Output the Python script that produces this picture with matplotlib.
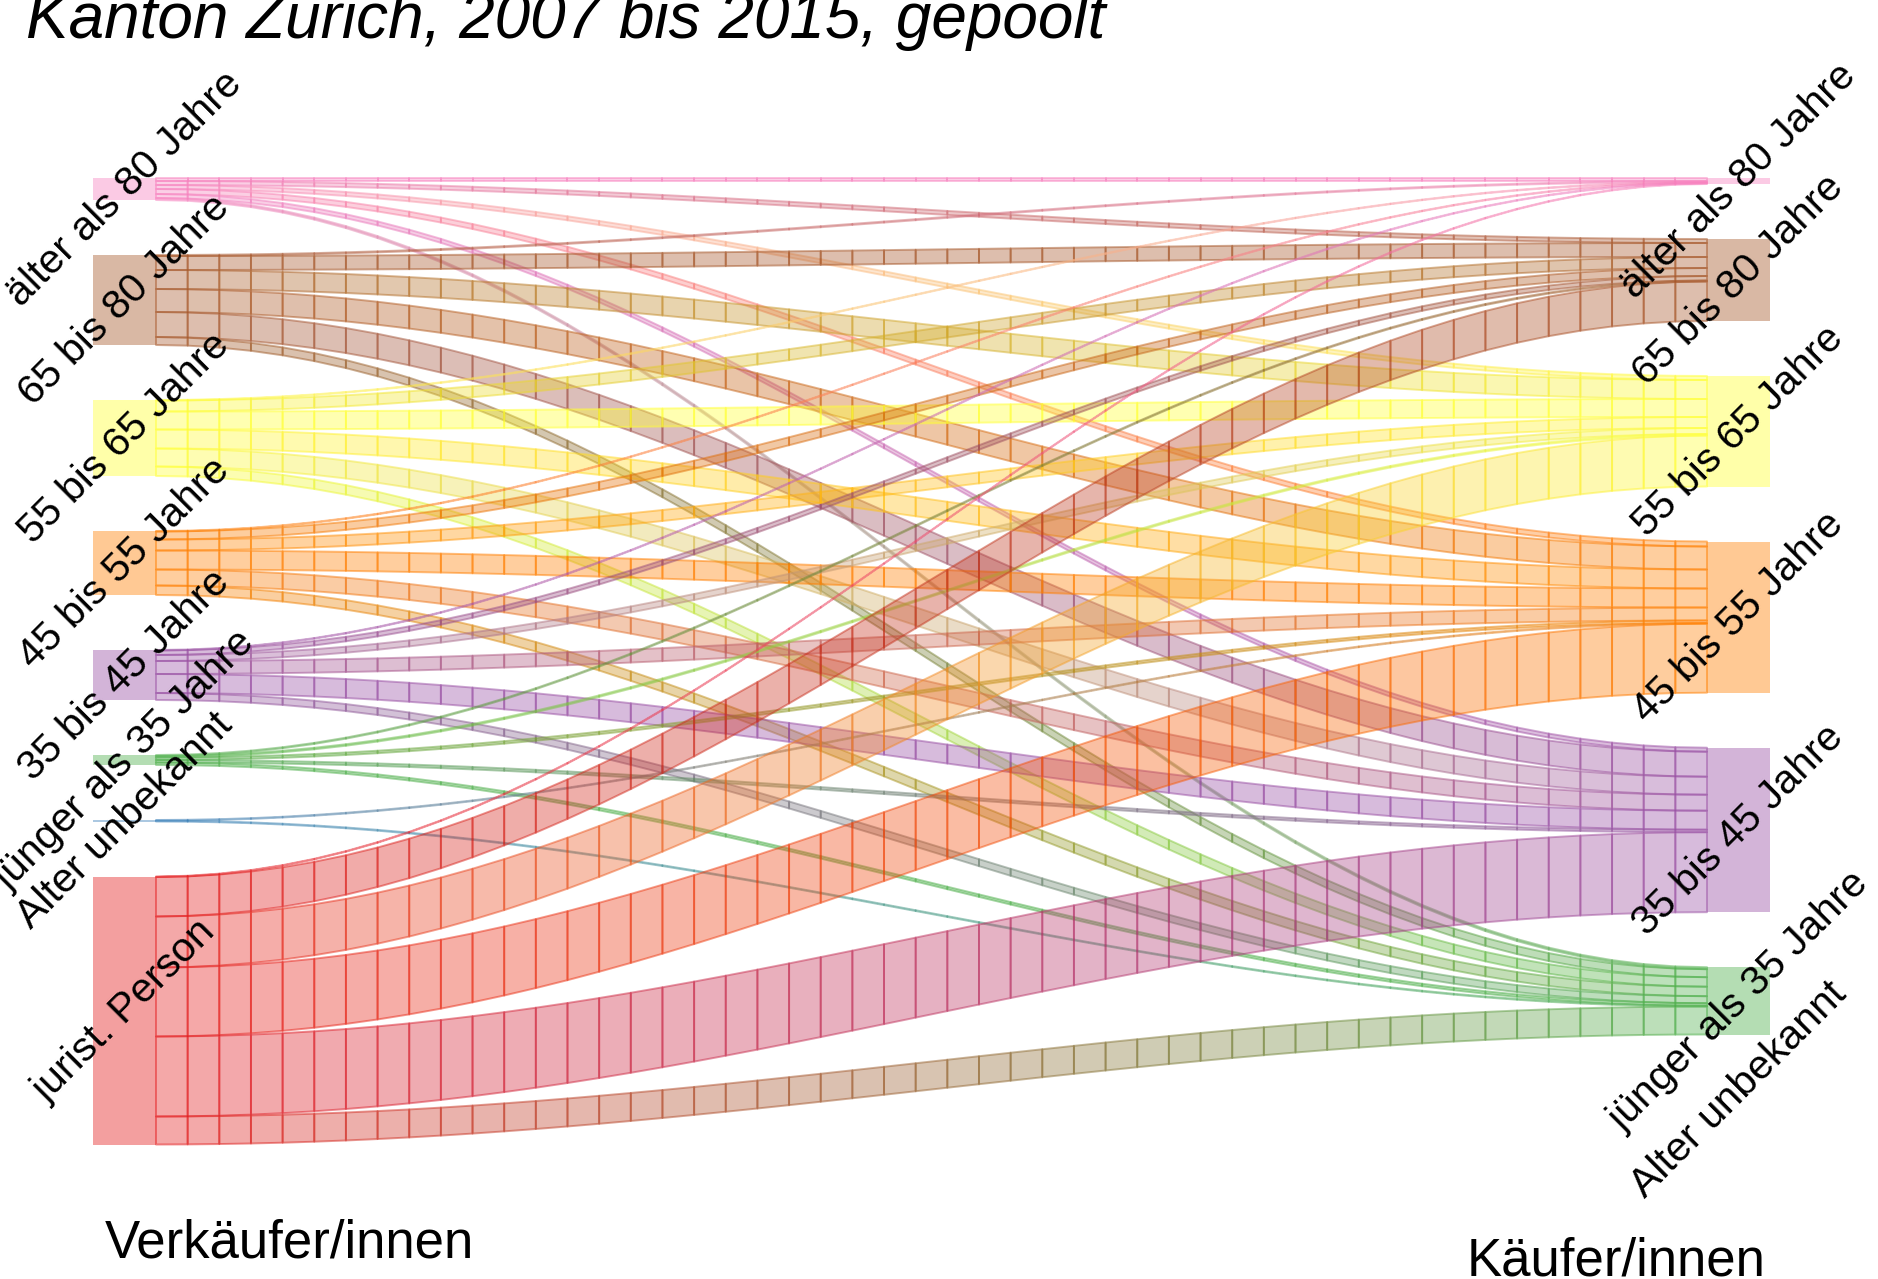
import numpy as np
import matplotlib.pyplot as plt
from matplotlib.collections import PolyCollection
from matplotlib.colors import to_rgb
from matplotlib.patches import Rectangle

plt.rcParams['font.family'] = ['Liberation Sans', 'DejaVu Sans']

title = "Kanton Zürich, 2007 bis 2015, gepoolt"
left_labels = ["älter als 80 Jahre", "65 bis 80 Jahre", "55 bis 65 Jahre", "45 bis 55 Jahre",
               "35 bis 45 Jahre", "jünger als 35 Jahre", "Alter unbekannt", "jurist. Person"]
right_labels = ["älter als 80 Jahre", "65 bis 80 Jahre", "55 bis 65 Jahre", "45 bis 55 Jahre",
                "35 bis 45 Jahre", "jünger als 35 Jahre", "Alter unbekannt"]
node_colors = ["#F781BF", "#A65628", "#FFFF33", "#FF7F00", "#984EA3", "#4DAF4A", "#377EB8", "#E41A1C"]

# flows Verkäufer -> Käufer, one list per seller group, columns in order of right_labels
from_80plus = [3, 4, 4, 5, 4, 2, 0]
from_65_80 = [1, 14, 19, 23, 25, 8, 0]
from_55_65 = [0.5, 11, 18, 19, 18, 9.5, 0]
from_45_55 = [0.5, 8, 11, 19, 16, 9.5, 0]
from_35_45 = [0.5, 4.5, 6, 13, 19, 7, 0]
from_u35 = [0, 1, 1.5, 2.5, 2.5, 2.5, 0]
from_unknown = [0, 0, 0, 0.7, 0, 0.8, 0]
from_jurist = [0.5, 39.5, 51, 69, 80, 28, 0]

flows = np.array([from_80plus, from_65_80, from_55_65, from_45_55,
                  from_35_45, from_u35, from_unknown, from_jurist], dtype=float)

# layout (pixels)
W, H = 1878, 1279
X_LEFT, NODE_W, X_RIGHT = 93, 63, 1707
TOP, GAP, SCALE = 178, 55, 1.0
NSTEPS = 50


def node_positions(sizes):
    tops = []
    y = TOP
    for s in sizes:
        tops.append(y)
        y += s * SCALE + GAP
    return np.array(tops)


left_sizes = flows.sum(axis=1)
right_sizes = flows.sum(axis=0)
left_tops = node_positions(left_sizes)
right_tops = node_positions(right_sizes)

fig = plt.figure(figsize=(W / 100, H / 100), dpi=100)
ax = fig.add_axes([0, 0, 1, 1])
ax.set_xlim(0, W)
ax.set_ylim(H, 0)
ax.axis("off")

x0 = X_LEFT + NODE_W
x1 = X_RIGHT
xs = np.linspace(x0, x1, NSTEPS)
shape = (np.sin(np.linspace(-np.pi / 2, np.pi / 2, NSTEPS)) + 1) / 2

src_off = left_tops.copy().astype(float)
dst_off = right_tops.copy().astype(float)
polys, fcols, ecols = [], [], []
# offsets: at source sorted by target, at target sorted by source
src_start = np.zeros_like(flows)
dst_start = np.zeros_like(flows)
for i in range(flows.shape[0]):
    for j in range(flows.shape[1]):
        src_start[i, j] = src_off[i]
        src_off[i] += flows[i, j] * SCALE
for j in range(flows.shape[1]):
    for i in range(flows.shape[0]):
        dst_start[i, j] = dst_off[j]
        dst_off[j] += flows[i, j] * SCALE

for i in range(flows.shape[0]):
    c0 = np.array(to_rgb(node_colors[i]))
    for j in range(flows.shape[1]):
        w = flows[i, j] * SCALE
        if w <= 0:
            continue
        c1 = np.array(to_rgb(node_colors[j]))
        ytop = src_start[i, j] + (dst_start[i, j] - src_start[i, j]) * shape
        for k in range(NSTEPS - 1):
            f = k / (NSTEPS - 2)
            c = (1 - f) * c0 + f * c1
            polys.append([(xs[k], ytop[k]), (xs[k + 1], ytop[k + 1]),
                          (xs[k + 1], ytop[k + 1] + w), (xs[k], ytop[k] + w)])
            fcols.append((*c, 0.38))
            ecols.append((*c, 0.5))

ax.add_collection(PolyCollection(polys, facecolors=fcols, edgecolors=ecols, linewidths=1.4))

for i, lab in enumerate(left_labels):
    h = left_sizes[i] * SCALE
    ax.add_patch(Rectangle((X_LEFT, left_tops[i]), NODE_W, h, color=node_colors[i], alpha=0.42, lw=0))
    ax.text(X_LEFT + NODE_W / 2, left_tops[i] + h / 2, lab, rotation=45, rotation_mode="anchor",
            ha="center", va="center", fontsize=29.5)
for j, lab in enumerate(right_labels):
    h = right_sizes[j] * SCALE
    if h > 0:
        ax.add_patch(Rectangle((X_RIGHT, right_tops[j]), NODE_W, h, color=node_colors[j], alpha=0.42, lw=0))
    ax.text(X_RIGHT + NODE_W / 2, right_tops[j] + h / 2, lab, rotation=45, rotation_mode="anchor",
            ha="center", va="center", fontsize=29.5)

ax.text(26, 38, title, fontsize=46, style="italic", ha="left", va="baseline")
ax.text(105, 1258, "Verkäufer/innen", fontsize=38, ha="left", va="baseline")
ax.text(1467, 1276, "Käufer/innen", fontsize=38, ha="left", va="baseline")

fig.savefig("out.png", dpi=100)
